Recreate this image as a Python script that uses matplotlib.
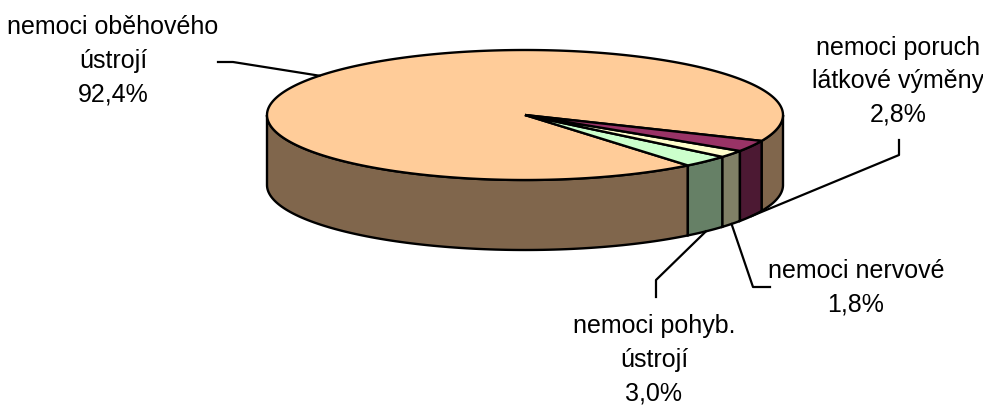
import numpy as np
import matplotlib.pyplot as plt
import matplotlib.font_manager as fm

# data
labels = ['nemoci oběhového\nústrojí', 'nemoci pohyb.\nústrojí', 'nemoci nervové',
          'nemoci poruch\nlátkové výměny']
values = [92.4, 3.0, 1.8, 2.8]
top_colors = ['#FFCC99', '#CCFFCC', '#FFFFCC', '#993366']
side_colors = ['#80664C', '#668066', '#808066', '#4C1933']

# label text positions (pixels) and leader elbow points
text_pos = [(113, 61), (654, 360), (856, 288), (898, 81)]
elbows = [[(218, 62), (233, 62)], [(656, 297), (656, 280)],
          [(770, 287), (753, 287)], [(899, 140), (899, 155)]]

names = {f.name for f in fm.fontManager.ttflist}
fams = [f for f in ['Liberation Sans Narrow', 'DejaVu Sans Condensed', 'Liberation Sans'] if f in names]
plt.rcParams['font.family'] = fams + ['DejaVu Sans']

cx, cy, a, b, h = 525, 115, 258, 65, 70
start = -23.5  # degrees, counterclockwise

fig = plt.figure(figsize=(9.83, 4.09), dpi=100)
ax = fig.add_axes([0, 0, 1, 1])
ax.set_xlim(0, 983)
ax.set_ylim(409, 0)
ax.axis('off')

def pt(t, dz=0):
    t = np.radians(t)
    return cx + a * np.cos(t), cy - b * np.sin(t) + dz

spans = []
t = start
for v in values:
    spans.append((t, t + v * 3.6))
    t += v * 3.6

# side walls
for (t1, t2), col in zip(spans, side_colors):
    for k in range(-1, 3):
        lo, hi = max(t1, k * 360 - 180), min(t2, k * 360)
        if hi <= lo:
            continue
        ts = np.linspace(lo, hi, 100)
        xs, ys = pt(ts)
        xb, yb = pt(ts[::-1], h)
        ax.fill(np.r_[xs, xb], np.r_[ys, yb], facecolor=col, edgecolor='black', lw=1.7, zorder=2)

# top faces
for (t1, t2), col in zip(spans, top_colors):
    ts = np.linspace(t1, t2, 400)
    xs, ys = pt(ts)
    ax.fill(np.r_[cx, xs], np.r_[cy, ys], facecolor=col, edgecolor='black', lw=1.7,
            joinstyle='miter', zorder=3)

# labels + leaders
for i, ((t1, t2), lab, v) in enumerate(zip(spans, labels, values)):
    mid = (t1 + t2) / 2
    if i == 0:
        ex, ey = pt(mid)
    else:
        ex, ey = pt(mid, h)
    pts = elbows[i] + [(ex, ey)]
    ax.plot([p[0] for p in pts], [p[1] for p in pts], color='black', lw=1.6, zorder=4)
    txt = lab + '\n' + f'{v:.1f}'.replace('.', ',') + '%'
    ax.text(text_pos[i][0], text_pos[i][1], txt, ha='center', va='center',
            fontsize=18, linespacing=1.5, zorder=5)

fig.savefig('out.png', dpi=100)
